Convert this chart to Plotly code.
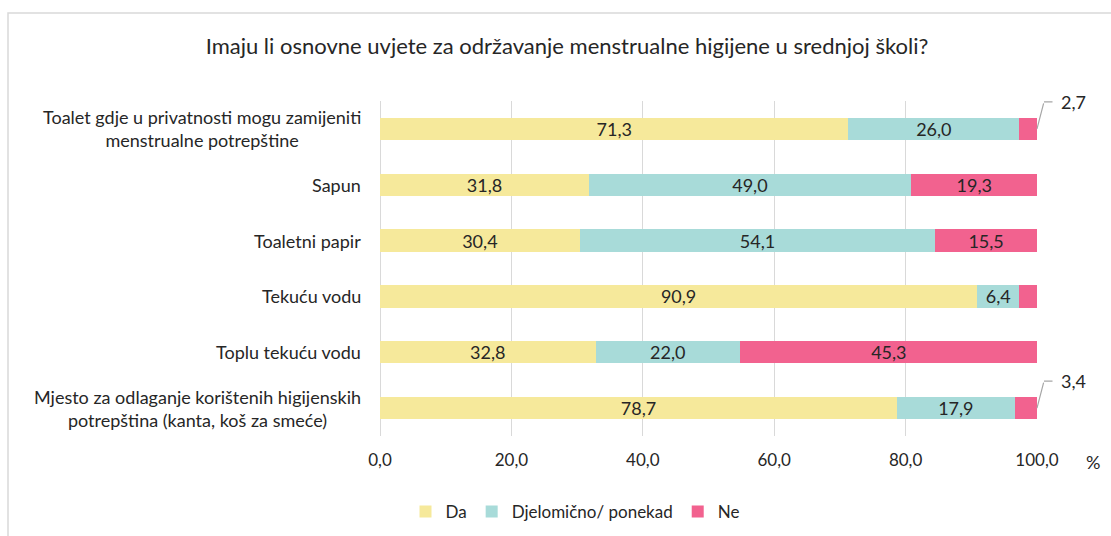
import plotly.graph_objects as go

categories = [
    "Toalet gdje u privatnosti mogu zamijeniti<br>menstrualne potrepštine",
    "Sapun",
    "Toaletni papir",
    "Tekuću vodu",
    "Toplu tekuću vodu",
    "Mjesto za odlaganje korištenih higijenskih<br>potrepština (kanta, koš za smeće)",
]
da = [71.3, 31.8, 30.4, 90.9, 32.8, 78.7]
djelomicno = [26.0, 49.0, 54.1, 6.4, 22.0, 17.9]
ne = [2.7, 19.3, 15.5, 2.7, 45.3, 3.4]
series_names = ["Da", "Djelomično/ ponekad", "Ne"]
colors = ["#F6E99B", "#A8DBD9", "#F2628F"]
tick_vals = [0, 20, 40, 60, 80, 100]
title = "Imaju li osnovne uvjete za održavanje menstrualne higijene u srednjoj školi?"

FONT = "Lato"
TXT = "#262626"
LEADER = "#A6A6A6"
SMALL = 5.0

def fmt(v):
    return f"{v:.1f}".replace(".", ",")

fig = go.Figure()
for name, vals, col in zip(series_names, [da, djelomicno, ne], colors):
    fig.add_trace(go.Bar(
        y=categories, x=vals, name=name, orientation="h",
        marker=dict(color=col, line=dict(width=0)),
        text=[fmt(v) if v >= SMALL else "" for v in vals],
        textposition="inside", insidetextanchor="middle",
        textfont=dict(family=FONT, size=18, color=TXT),
        hoverinfo="x+name",
    ))

W, H = 1111, 536
L, R, T, B = 380, 1111 - 1037, 101, 536 - 436
pw, ph = W - L - R, H - T - B

def px(xp):
    return (xp - L) / pw

def py(yp):
    return (H - B - yp) / ph

annotations = []
shapes = [dict(type="rect", xref="paper", yref="paper",
               x0=px(8), x1=px(1116), y0=py(541), y1=py(13),
               line=dict(color="#D9D9D9", width=1.5), fillcolor="rgba(0,0,0,0)",
               layer="below")]
for c in categories:
    annotations.append(dict(
        x=px(363), xref="paper", y=c, yref="y", text=c, showarrow=False,
        xanchor="right", align="center", yanchor="middle",
        font=dict(family=FONT, size=18, color=TXT),
    ))
for c, a, b, n in zip(categories, da, djelomicno, ne):
    if n < SMALL:
        tot = a + b + n
        annotations.append(dict(
            x=tot, y=c, xref="x", yref="y", text="", showarrow=True,
            arrowhead=0, arrowwidth=1.2, arrowcolor=LEADER, standoff=0,
            ax=7, ay=-27,
        ))
        annotations.append(dict(
            x=tot, y=c, xref="x", yref="y", text="", showarrow=True,
            arrowhead=0, arrowwidth=1.2, arrowcolor=LEADER, standoff=0,
            xshift=7, yshift=27, ax=10, ay=0,
        ))
        annotations.append(dict(
            x=tot, y=c, xref="x", yref="y", text=fmt(n), showarrow=False,
            xshift=22, yshift=27, xanchor="left", yanchor="middle",
            font=dict(family=FONT, size=18, color=TXT),
        ))
annotations.append(dict(
    x=px(1093), y=py(462), xref="paper", yref="paper", text="%",
    xanchor="center", yanchor="middle",
    showarrow=False, font=dict(family=FONT, size=18, color=TXT),
))

n_cat = len(categories)
fig.update_layout(
    width=W, height=H,
    margin=dict(l=L, r=R, t=T, b=B, autoexpand=False),
    barmode="stack", bargap=0.6,
    uniformtext=dict(mode="show", minsize=18),
    paper_bgcolor="white", plot_bgcolor="white",
    separators=",.",
    font=dict(family=FONT, size=17, color=TXT),
    title=dict(text=title, x=px(567), xref="paper", xanchor="center",
               y=1 - 46 / H, yref="container", yanchor="middle",
               font=dict(family=FONT, size=22, color=TXT)),
    xaxis=dict(range=[0, 100], tickvals=tick_vals, tickformat=".1f",
               showgrid=True, gridcolor="#D9D9D9", gridwidth=1,
               zeroline=True, zerolinecolor="#D9D9D9", zerolinewidth=1,
               showline=False, ticks="", ticklabelstandoff=12, automargin=False,
               tickfont=dict(family=FONT, size=17, color=TXT), fixedrange=True),
    yaxis=dict(range=[n_cat - 0.5, -0.5], showticklabels=False, showgrid=False,
               ticks="", showline=False, fixedrange=True, automargin=False),
    legend=dict(orientation="h", x=px(575), xanchor="center",
                y=1 - 512 / H, yref="container",
                yanchor="middle", font=dict(family=FONT, size=17, color=TXT),
                itemwidth=30, traceorder="normal"),
    annotations=annotations,
    shapes=shapes,
)

fig.write_html(
    "out.html",
    config={"displayModeBar": False},
    post_script="document.body.style.margin='0';document.body.style.overflow='hidden';",
)
